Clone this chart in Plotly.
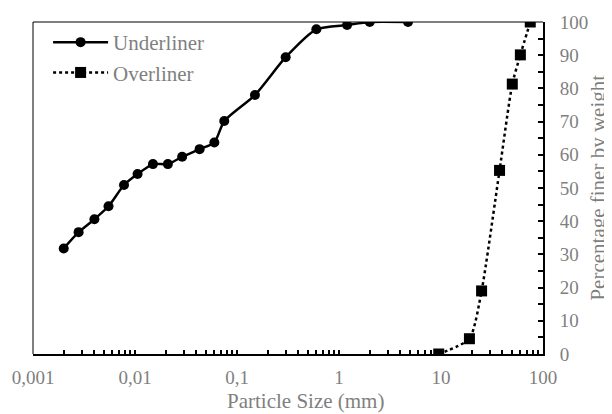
import plotly.graph_objects as go

# Data
under_x = [0.002, 0.0028, 0.004, 0.0055, 0.0078, 0.0106, 0.015, 0.021, 0.029,
           0.043, 0.06, 0.075, 0.15, 0.3, 0.6, 1.2, 2.0, 4.75]
under_y = [31.8, 36.7, 40.6, 44.5, 50.9, 54.2, 57.2, 57.2, 59.4,
           61.7, 63.7, 70.2, 78.0, 89.4, 97.8, 99.1, 100, 100]

over_x = [9.5, 19, 25, 37.5, 50, 60, 75]
over_y = [0, 4.6, 19.0, 55.3, 81.3, 90.1, 100]

decades = [0.001, 0.01, 0.1, 1, 10, 100]
decade_labels = ["0,001", "0,01", "0,1", "1", "10", "100"]

x_title = "Particle Size (mm)"
y_title = "Percentage finer by weight"

# tick positions (decades + minor 2..9)
tickvals, ticktext = [], []
for d, lab in zip(decades, decade_labels):
    tickvals.append(d)
    ticktext.append(lab)
    if d < 100:
        for m in range(2, 10):
            tickvals.append(d * m)
            ticktext.append("")

FONT = "Liberation Serif, Times New Roman, serif"
GRAY = "#7f7f7f"

fig = go.Figure()
fig.add_trace(go.Scatter(
    x=under_x, y=under_y, name="Underliner", mode="lines+markers",
    line=dict(color="black", width=2.5, shape="spline", smoothing=0.6),
    marker=dict(symbol="circle", size=10, color="black"),
))
fig.add_trace(go.Scatter(
    x=over_x, y=over_y, name="Overliner", mode="lines+markers",
    line=dict(color="black", width=2.5, dash="dot", shape="spline", smoothing=0.6),
    marker=dict(symbol="square", size=11, color="black"),
))

fig.update_layout(
    width=612, height=414,
    margin=dict(l=25, r=77, t=14, b=68, autoexpand=False),
    paper_bgcolor="white", plot_bgcolor="white",
    font=dict(family=FONT, color=GRAY, size=19),
    showlegend=True,
    legend=dict(
        x=0.0296, y=1.0, xanchor="left", yanchor="top",
        bgcolor="rgba(0,0,0,0)", font=dict(size=21, color=GRAY, family=FONT),
        itemwidth=55, tracegroupgap=0,
    ),
    xaxis=dict(
        type="log", range=[-3, 2], showgrid=False, zeroline=False,
        showline=True, linecolor="black", linewidth=2,
        ticks="inside", ticklen=4, tickwidth=1.5, tickcolor="black",
        tickmode="array", tickvals=tickvals, ticktext=ticktext,
        tickfont=dict(size=19, color=GRAY, family=FONT),
        ticklabelstandoff=5,
    ),
    yaxis=dict(
        side="right", range=[0, 100], showgrid=False, zeroline=False,
        showline=True, linecolor="black", linewidth=2,
        ticks="inside", ticklen=5, tickwidth=1.5, tickcolor="black",
        dtick=10, tick0=0,
        minor=dict(ticks="inside", ticklen=5, tickwidth=1.5, tickcolor="black", dtick=5),
        tickfont=dict(size=19, color=GRAY, family=FONT),
        ticklabelstandoff=11,
    ),
    shapes=[
        dict(type="line", xref="paper", yref="paper", x0=0, x1=1, y0=1, y1=1,
             line=dict(color="black", width=1)),
        dict(type="line", xref="paper", yref="paper", x0=0, x1=0, y0=0, y1=1,
             line=dict(color="black", width=1)),
    ],
    annotations=[
        dict(text=x_title, xref="paper", yref="paper", x=0.535, y=-0.142,
             xanchor="center", yanchor="middle", showarrow=False,
             font=dict(size=21, color=GRAY, family=FONT)),
        dict(text=y_title, xref="paper", yref="paper", x=1.107, y=0.5,
             xanchor="center", yanchor="middle", showarrow=False, textangle=-90,
             font=dict(size=21, color=GRAY, family=FONT)),
    ],
)

fig.write_html("out.html")
